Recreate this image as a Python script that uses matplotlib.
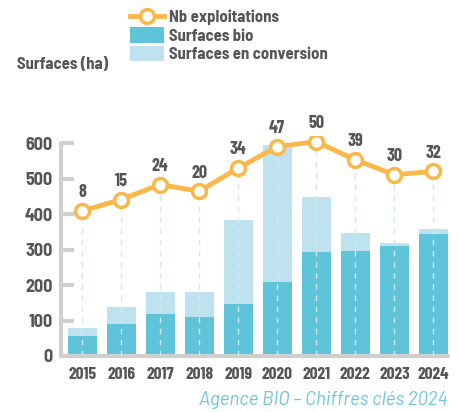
import matplotlib.pyplot as plt
import numpy as np

years = ["2015", "2016", "2017", "2018", "2019", "2020", "2021", "2022", "2023", "2024"]
surf_bio = [57, 90, 119, 110, 147, 209, 294, 296, 310, 344]
surf_conv = [22, 48, 62, 71, 237, 388, 155, 51, 9, 14]
nb_exploit = [8, 15, 24, 20, 34, 47, 50, 39, 30, 32]

c_bio = "#5fc3d9"
c_conv = "#bfe3ee"
c_line = "#fbb84a"
c_text = "#555555"
c_axis = "#cfcfcf"
fnt = ["Barlow Semi Condensed", "DejaVu Sans"]
fnt_c = ["Barlow Condensed", "DejaVu Sans"]

plt.rcParams["font.family"] = fnt

fig = plt.figure(figsize=(4.6, 4.12), dpi=100)
ax = fig.add_axes([0.1326, 0.136, 0.841, 0.533])
x = np.arange(len(years))

b1 = ax.bar(x, surf_bio, width=0.74, color=c_bio, zorder=2)
b2 = ax.bar(x, surf_conv, width=0.74, bottom=surf_bio, color=c_conv, zorder=2)

ax.set_xlim(-0.54, 9.37)
ax.set_ylim(0, 620)
ax.set_yticks([0, 100, 200, 300, 400, 500, 600])
ax.set_xticks(x)
ax.set_xticklabels(years)
for s in ["top", "right"]:
    ax.spines[s].set_visible(False)
for s in ["left", "bottom"]:
    ax.spines[s].set_color(c_axis)
    ax.spines[s].set_linewidth(3)
    ax.spines[s].set_capstyle("round")
ax.spines["left"].set_bounds(0, 600)
ax.tick_params(axis="y", direction="in", length=9, width=3, color=c_axis,
               labelsize=13, labelcolor=c_text, pad=6)
ax.tick_params(axis="x", length=0, labelsize=12.5, labelcolor=c_text, pad=8)
for lab in ax.get_yticklabels():
    lab.set_fontweight("bold")
for lab in ax.get_xticklabels():
    lab.set_fontweight("bold")
    lab.set_family(fnt_c)

# second scale for the number of farms (hidden)
ax2 = ax.twinx()
k = 4.67
ax2.set_ylim((0 - 371.7) / k, (620 - 371.7) / k)
ax2.axis("off")

# dashed guides from the axis up to each point
for xi, n in zip(x, nb_exploit):
    top = 371.7 + n * k
    ax.plot([xi, xi], [0, top - 8], ls=(0, (4, 4)), lw=1, color="#cde9f3", zorder=3)

ln, = ax2.plot(x, nb_exploit, color=c_line, lw=3.5, marker="o", ms=10,
               mfc="white", mec=c_line, mew=2.5, zorder=4)
for xi, n in zip(x, nb_exploit):
    ax2.annotate(str(n), (xi, n), xytext=(0, 7), textcoords="offset points",
                 ha="center", va="bottom", fontsize=13, fontweight="bold",
                 color=c_text, family=fnt_c)

fig.text(0.037, 0.843, "Surfaces (ha)", fontsize=12, fontweight="bold", color=c_text,
         va="center", ha="left")

fig.legend([ln, b1, b2], ["Nb exploitations", "Surfaces bio", "Surfaces en conversion"],
           loc="upper left", bbox_to_anchor=(0.283, 0.978), frameon=False,
           borderpad=0, borderaxespad=0,
           handlelength=2.0, handleheight=1.05, labelspacing=0.12, handletextpad=0.3,
           prop={"family": fnt, "weight": "bold", "size": 12}, labelcolor=c_text)

fig.text(0.973, 0.029, "Agence BIO – Chiffres clés 2024", fontsize=13.5, style="italic",
         color="#6ac5de", ha="right", va="center", family=["Barlow", "DejaVu Sans"])

fig.savefig("out.png", dpi=100)
